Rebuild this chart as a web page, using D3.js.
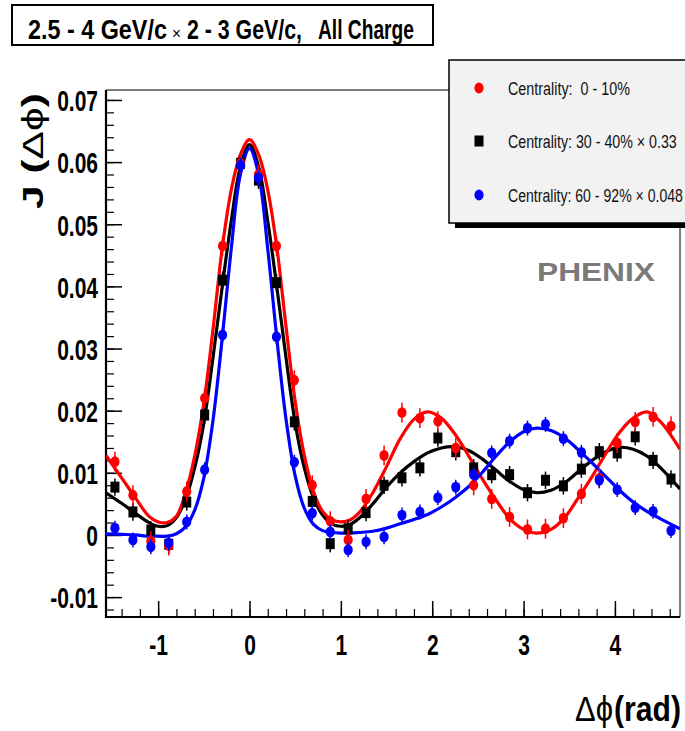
<!DOCTYPE html>
<html><head><meta charset="utf-8">
<script src="https://cdn.jsdelivr.net/npm/d3@7"></script>
<style>body{margin:0;background:#fff;} svg{display:block;} text{white-space:pre;}</style>
</head><body>
<svg id="chart" width="685" height="731"></svg>
<script>
// ---- data ----
const binCenters = [-1.473, -1.276, -1.080, -0.884, -0.687, -0.491, -0.295, -0.098, 0.098, 0.295, 0.491, 0.687,
  0.884, 1.080, 1.276, 1.473, 1.669, 1.865, 2.062, 2.258, 2.454, 2.651, 2.847, 3.043, 3.240, 3.436, 3.633, 3.829,
  4.025, 4.222, 4.418, 4.614];
const redValues = [0.0118, 0.0064, -0.0010, -0.0017, 0.0070, 0.0220, 0.0465, 0.0598, 0.0580, 0.0465, 0.0249, 0.0080,
  0.0022, -0.0008, 0.0058, 0.0128, 0.0197, 0.0188, 0.0183, 0.0140, 0.0080, 0.0058, 0.0029, 0.0009, 0.0010, 0.0027,
  0.0066, 0.0091, 0.0148, 0.0182, 0.0190, 0.0175];
const blackValues = [0.0077, 0.0037, 0.0008, -0.0015, 0.0053, 0.0193, 0.0410, 0.0598, 0.0571, 0.0406, 0.0182, 0.0054,
  -0.0014, 0.0010, 0.0036, 0.0080, 0.0092, 0.0108, 0.0156, 0.0134, 0.0108, 0.0097, 0.0097, 0.0068, 0.0088, 0.0079,
  0.0106, 0.0134, 0.0132, 0.0158, 0.0120, 0.0090];
const blueValues = [0.0011, -0.0008, -0.0019, -0.0013, 0.0021, 0.0105, 0.0322, 0.0595, 0.0575, 0.0319, 0.0117, 0.0035,
  0.0005, -0.0024, -0.0011, -0.0003, 0.0032, 0.0037, 0.0060, 0.0077, 0.0097, 0.0132, 0.0151, 0.0172, 0.0178, 0.0155,
  0.0133, 0.0088, 0.0073, 0.0044, 0.0038, 0.0007];
const seriesErrors = [0.0016, 0.0014, 0.0012];

const curveX = [-1.571, -1.4, -1.25, -1.1, -1.0, -0.9, -0.8, -0.7, -0.6, -0.5, -0.4, -0.3, -0.2, -0.1, 0, 0.1, 0.2,
  0.3, 0.4, 0.5, 0.6, 0.7, 0.8, 0.9, 1.0, 1.1, 1.2, 1.35, 1.5, 1.65, 1.8, 1.95, 2.1, 2.25, 2.4, 2.55, 2.7, 2.85, 3.0,
  3.14, 3.3, 3.45, 3.6, 3.75, 3.9, 4.05, 4.2, 4.35, 4.5, 4.712];
const redCurve = [0.0128, 0.0092, 0.0060, 0.0030, 0.0021, 0.0020, 0.0030, 0.0068, 0.0127, 0.0212, 0.0330, 0.0460,
  0.0555, 0.0612, 0.0636, 0.0612, 0.0555, 0.0462, 0.0335, 0.0215, 0.0128, 0.0070, 0.0038, 0.0025, 0.0021, 0.0024,
  0.0036, 0.0068, 0.0110, 0.0155, 0.0186, 0.0198, 0.0188, 0.0162, 0.0127, 0.0090, 0.0056, 0.0026, 0.0009, 0.0003,
  0.0009, 0.0028, 0.0060, 0.0094, 0.0131, 0.0165, 0.0188, 0.0198, 0.0182, 0.0138];
const blackCurve = [0.0068, 0.0051, 0.0035, 0.0020, 0.0014, 0.0015, 0.0028, 0.0058, 0.0108, 0.0180, 0.0285, 0.0398,
  0.0505, 0.0592, 0.0628, 0.0592, 0.0505, 0.0398, 0.0285, 0.0180, 0.0108, 0.0060, 0.0032, 0.0018, 0.0014, 0.0017,
  0.0027, 0.0050, 0.0077, 0.0100, 0.0118, 0.0132, 0.0140, 0.0142, 0.0136, 0.0122, 0.0104, 0.0086, 0.0073, 0.0068,
  0.0072, 0.0084, 0.0102, 0.0120, 0.0134, 0.0141, 0.0138, 0.0127, 0.0108, 0.0074];
const blueCurve = [0.0002, 0.0001, 0.0000, -0.0002, -0.0002, -0.0002, 0.0002, 0.0013, 0.0040, 0.0092, 0.0184, 0.0315,
  0.0460, 0.0580, 0.0622, 0.0580, 0.0460, 0.0315, 0.0186, 0.0095, 0.0043, 0.0017, 0.0007, 0.0004, 0.0003, 0.0003,
  0.0004, 0.0006, 0.0011, 0.0018, 0.0025, 0.0033, 0.0045, 0.0060, 0.0078, 0.0101, 0.0127, 0.0150, 0.0166, 0.0172,
  0.0168, 0.0156, 0.0137, 0.0116, 0.0094, 0.0072, 0.0053, 0.0038, 0.0026, 0.0010];

const seriesNames = ["Centrality:  0 - 10%", "Centrality: 30 - 40% \u00d7 0.33", "Centrality: 60 - 92% \u00d7 0.048"];
const seriesColors = ["#ff0000", "#000000", "#0000ff"];
const seriesMarkers = ["circle", "square", "circle"];

const yTickValues = [-0.01, 0, 0.01, 0.02, 0.03, 0.04, 0.05, 0.06, 0.07];
const yTickLabels = ["-0.01", "0", "0.01", "0.02", "0.03", "0.04", "0.05", "0.06", "0.07"];
const xTickValues = [-1, 0, 1, 2, 3, 4];
const xTickLabels = ["-1", "0", "1", "2", "3", "4"];

// ---- drawing ----
const FONT = "'Liberation Sans', Arial, Helvetica, sans-serif";
const svg = d3.select("#chart");
const L = 106, R = 680, T = 90, B = 617;
const x = d3.scaleLinear().domain([-Math.PI / 2, 3 * Math.PI / 2]).range([L, R]);
const y = d3.scaleLinear().domain([-0.0132, 0.0716]).range([B, T]);

// place a text so that its drawn width equals `width` (horizontal squeeze, like a condensed font)
function fitText(sel, tx, ty, width, extra) {
  sel.attr("x", 0).attr("y", 0);
  const natural = sel.node().getComputedTextLength();
  const s = natural > 0 ? width / natural : 1;
  sel.attr("transform", `translate(${tx},${ty})${extra || ""} scale(${s.toFixed(4)},1)`);
  return sel;
}

svg.append("rect").attr("width", 685).attr("height", 731).attr("fill", "#fff");

svg.append("defs").append("clipPath").attr("id", "plotclip")
  .append("rect").attr("x", L).attr("y", T).attr("width", R - L).attr("height", B - T);

// frame
svg.append("line").attr("x1", L).attr("x2", R).attr("y1", T).attr("y2", T).attr("stroke", "#000").attr("stroke-width", 1);
svg.append("line").attr("x1", R).attr("x2", R).attr("y1", T).attr("y2", B).attr("stroke", "#000").attr("stroke-width", 1);

// minor ticks
const yMinor = d3.range(-6, 36).map(k => +(k * 0.002).toFixed(3));
const xMinor = d3.range(-7, 24).map(k => +(k * 0.2).toFixed(1));
svg.append("g").attr("transform", `translate(${L},0)`)
  .call(d3.axisLeft(y).tickValues(yMinor).tickSizeInner(-8).tickSizeOuter(0).tickFormat(""))
  .call(g => g.select(".domain").remove())
  .selectAll("line").attr("stroke-width", 1.2);
svg.append("g").attr("transform", `translate(0,${B})`)
  .call(d3.axisBottom(x).tickValues(xMinor).tickSizeInner(-8).tickSizeOuter(0).tickFormat(""))
  .call(g => g.select(".domain").remove())
  .selectAll("line").attr("stroke-width", 1.2);

// major ticks + labels
const yAxis = svg.append("g").attr("transform", `translate(${L},0)`)
  .call(d3.axisLeft(y).tickValues(yTickValues).tickFormat((d, i) => yTickLabels[i]).tickSizeInner(-16).tickSizeOuter(0));
yAxis.select(".domain").remove();
yAxis.selectAll("line").attr("stroke-width", 1.5);
yAxis.selectAll("text").attr("x", 0).attr("dy", "0.36em")
  .attr("transform", "translate(-8,0) scale(0.7,1)")
  .attr("font-family", FONT).attr("font-weight", "bold").attr("font-size", 30).attr("fill", "#000");

const xAxis = svg.append("g").attr("transform", `translate(0,${B})`)
  .call(d3.axisBottom(x).tickValues(xTickValues).tickFormat((d, i) => xTickLabels[i]).tickSizeInner(-16).tickSizeOuter(0));
xAxis.select(".domain").remove();
xAxis.selectAll("line").attr("stroke-width", 1.5);
xAxis.selectAll("text").attr("y", 0).attr("dy", 0)
  .attr("transform", "translate(0,38) scale(0.7,1)")
  .attr("font-family", FONT).attr("font-weight", "bold").attr("font-size", 30).attr("fill", "#000");

// axis lines
svg.append("line").attr("x1", L).attr("x2", L).attr("y1", T).attr("y2", B + 1).attr("stroke", "#000").attr("stroke-width", 2.2);
svg.append("line").attr("x1", L - 1).attr("x2", R).attr("y1", B).attr("y2", B).attr("stroke", "#000").attr("stroke-width", 2.2);

// curves
const curves = [blackCurve, redCurve, blueCurve];
const curveColors = [seriesColors[1], seriesColors[0], seriesColors[2]];
const line = d3.line().x(d => x(d[0])).y(d => y(d[1])).curve(d3.curveCatmullRom.alpha(0.5));
const plot = svg.append("g").attr("clip-path", "url(#plotclip)");
curves.forEach((c, k) => {
  plot.append("path").datum(curveX.map((v, i) => [v, c[i]]))
    .attr("d", line).attr("fill", "none").attr("stroke", curveColors[k]).attr("stroke-width", 3.2)
    .attr("stroke-linejoin", "round");
});

// points
const pointSets = [
  {vals: blackValues, color: seriesColors[1], marker: "square", err: seriesErrors[1]},
  {vals: redValues, color: seriesColors[0], marker: "circle", err: seriesErrors[0]},
  {vals: blueValues, color: seriesColors[2], marker: "circle", err: seriesErrors[2]}
];
pointSets.forEach(s => {
  const g = plot.append("g");
  const pts = binCenters.map((bx, i) => [bx, s.vals[i]]);
  g.selectAll("line.err").data(pts).enter().append("line")
    .attr("x1", d => x(d[0])).attr("x2", d => x(d[0]))
    .attr("y1", d => y(d[1] - s.err)).attr("y2", d => y(d[1] + s.err))
    .attr("stroke", s.color).attr("stroke-width", 1.5);
  if (s.marker === "square") {
    g.selectAll("rect").data(pts).enter().append("rect")
      .attr("x", d => x(d[0]) - 4.5).attr("y", d => y(d[1]) - 5.5)
      .attr("width", 9).attr("height", 11).attr("fill", s.color);
  } else {
    g.selectAll("ellipse").data(pts).enter().append("ellipse")
      .attr("cx", d => x(d[0])).attr("cy", d => y(d[1]))
      .attr("rx", 4.6).attr("ry", 5.4).attr("fill", s.color);
  }
});

// title box
svg.append("rect").attr("x", 12).attr("y", 5).attr("width", 421).attr("height", 40)
  .attr("fill", "#fff").attr("stroke", "#000").attr("stroke-width", 2);
const titleParts = [
  {t: "2.5 - 4 GeV/c", x: 28, len: 139, w: "bold", s: 27},
  {t: "\u00d7", x: 172, len: 9, w: "normal", s: 17},
  {t: "2 - 3 GeV/c,", x: 187, len: 115, w: "bold", s: 27},
  {t: "All Charge", x: 318, len: 96, w: "bold", s: 27}
];
titleParts.forEach(p => {
  const t = svg.append("text").attr("font-family", FONT).attr("font-weight", p.w).attr("font-size", p.s)
    .attr("fill", "#000").text(p.t);
  fitText(t, p.x, 39, p.len);
});

// legend
svg.append("rect").attr("x", 455).attr("y", 66).attr("width", 260).attr("height", 162).attr("fill", "#000");
svg.append("rect").attr("x", 449).attr("y", 60).attr("width", 260).attr("height", 163)
  .attr("fill", "#f2f2f2").attr("stroke", "#000").attr("stroke-width", 1.5);
const legendY = [88, 141, 195];
const legendLen = [122, 169, 175];
seriesNames.forEach((name, i) => {
  if (seriesMarkers[i] === "square") {
    svg.append("rect").attr("x", 479 - 4.5).attr("y", legendY[i] - 5.5).attr("width", 9).attr("height", 11).attr("fill", seriesColors[i]);
  } else {
    svg.append("ellipse").attr("cx", 479).attr("cy", legendY[i]).attr("rx", 4.6).attr("ry", 5.4).attr("fill", seriesColors[i]);
  }
  const t = svg.append("text").attr("font-family", FONT).attr("font-size", 19).attr("fill", "#111").text(name);
  fitText(t, 508, legendY[i] + 7, legendLen[i]);
});

// PHENIX label
const ph = svg.append("text").attr("font-family", FONT).attr("font-weight", "bold")
  .attr("font-size", 26).attr("fill", "#7a7a7a").text("PHENIX");
fitText(ph, 537, 281, 118);

// axis titles
const yt = svg.append("text")
  .attr("font-family", FONT).attr("font-weight", "bold").attr("font-size", 29).attr("fill", "#000");
yt.append("tspan").text("J (");
yt.append("tspan").attr("font-weight", "normal").text("\u0394\u03d5");
yt.append("tspan").text(")");
fitText(yt, 43, 209, 116, " rotate(-90)");

const xt1 = svg.append("text").attr("font-family", FONT).attr("font-weight", "normal").attr("font-size", 35)
  .attr("fill", "#000").text("\u0394\u03d5");
fitText(xt1, 575, 721, 38);
const xt2 = svg.append("text").attr("font-family", FONT).attr("font-weight", "bold").attr("font-size", 35)
  .attr("fill", "#000").text("(rad)");
fitText(xt2, 614, 721, 67);
</script>
</body></html>
